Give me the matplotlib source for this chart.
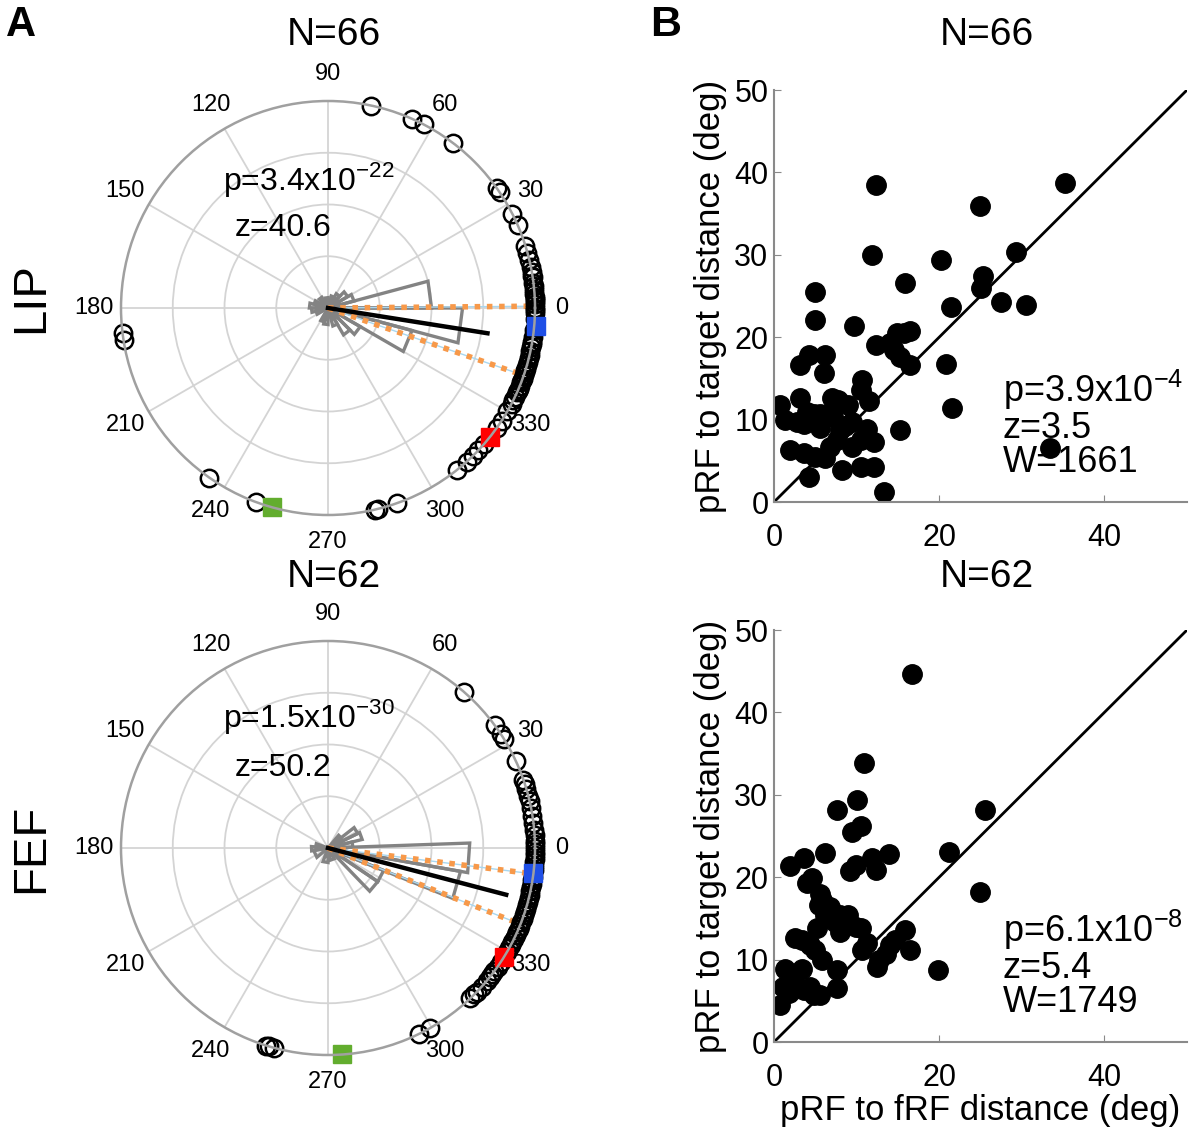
import numpy as np
from matplotlib import pyplot as plt

plt.rcParams['font.family'] = ['Liberation Sans', 'DejaVu Sans']

W, H = 1200, 1143

# ---- polar data (angles in deg, markers sit on the outer ring) ----
lip_angles = [78, 66, 62.5, 53, 35.5, 34, 27, 23.5, 17.5, 15.5, 13.5,
              11.5, 10, 9, 8.5, 7, 6, 5, 4, 3, 2.5, 2, 1, 0, -0.5,
              -1.5, -3, -6, -8, -9.5, -10, -11, -12, -13, -14, -15, -16, -17, -17.5,
              -18, -19, -20, -20.5, -21, -22, -23, -23.5, -24, -25.5, -26.5,
              -27.5, -30, -33, -35.5, -41, -43.5, -45.5, -48, -51.5,
              -70.5, -76, -77, 249.5, 235, 187, 189]
fef_angles = [48.9, 36.4, 33.5, 31.8, 25, 19.3, 18, 16.7, 14.5, 13, 11.1, 9, 7, 5,
              3.5, 2, 1, 0, -1, -2, -3, -4, -5, -6,
              -8, -9, -10, -11, -12, -13, -14, -15, -16, -17, -18, -19, -20,
              -21, -22, -23, -24, -25, -26, -27, -28, -29, -30,
              -33.5, -35, -36.5, -37.5, -38.5, -40, -42, -44, -45, -46.5,
              -60.5, -63.8, 252.6, 254.8, 253.5]

# rose bins: (start deg, end deg, length relative to outer ring)
lip_rose = [(0, 15, 0.50), (-15, 0, 0.65), (-30, -15, 0.42), (-45, -30, 0.18),
            (-60, -45, 0.15), (15, 30, 0.13), (30, 45, 0.11), (45, 60, 0.08),
            (60, 75, 0.06), (90, 105, 0.05), (120, 135, 0.06), (150, 165, 0.07),
            (165, 180, 0.09), (180, 195, 0.08), (195, 210, 0.06), (240, 255, 0.07),
            (255, 270, 0.08), (285, 300, 0.09)]
fef_rose = [(-10, 2, 0.685), (-22, -10, 0.65), (-34, -22, 0.29), (-46, -34, 0.29),
            (2, 14, 0.12), (14, 26, 0.17), (26, 38, 0.16), (38, 50, 0.08),
            (160, 175, 0.06), (175, 190, 0.08), (190, 220, 0.07), (250, 270, 0.07),
            (280, 300, 0.06)]

lip_mean = (-9, 0.78)
fef_mean = (-14.7, 0.89)
lip_ci = [(0.5, 0.99), (-19, 0.97)]
fef_ci = [(-7.2, 0.96), (-21.6, 0.98)]
lip_squares = [(-5, 1.01, '#1f4fe6'), (-38.5, 1.0, '#ff0000'), (254.2, 1.0, '#62ad2e')]
fef_squares = [(-7, 1.0, '#1f4fe6'), (-31.8, 1.0, '#ff0000'), (274, 1.0, '#62ad2e')]

# ---- scatter data ----
lip_x = [12.3, 35.2, 24.9, 11.9, 20.2, 29.3, 25.3, 25.1, 27.5, 30.5,
         21.4, 15.9, 5.0, 5.0, 9.7, 12.3, 14.1, 14.9, 15.7, 16.5,
         14.5, 15.3, 16.5, 20.8, 21.6, 4.2, 6.2, 3.2, 6.0, 10.7,
         10.5, 11.5, 0.7, 3.2, 7.0, 9.0, 1.3, 4.0, 4.8, 5.6,
         6.4, 7.2, 2.8, 3.6, 8.0, 9.4, 11.3, 7.6, 1.9, 3.6,
         5.0, 6.2, 6.8, 9.4, 10.5, 12.1, 15.3, 33.4, 4.2, 8.2,
         10.5, 12.1, 13.3, 5.6, 8.6, 7.8]
lip_y = [38.5, 38.7, 35.9, 30.0, 29.4, 30.4, 27.4, 26.0, 24.3, 23.9,
         23.7, 26.6, 25.5, 22.1, 21.4, 19.1, 19.3, 20.5, 20.5, 20.7,
         18.5, 17.6, 16.6, 16.8, 11.4, 17.8, 17.8, 16.6, 15.6, 14.8,
         13.6, 12.2, 11.8, 12.6, 12.6, 11.8, 9.9, 10.9, 10.7, 10.7,
         10.5, 10.3, 9.7, 9.5, 8.7, 9.7, 8.9, 7.5, 6.3, 5.9,
         5.5, 5.3, 6.7, 6.7, 7.5, 7.3, 8.7, 6.5, 3.0, 3.9,
         4.3, 4.3, 1.2, 9.0, 9.2, 12.4]
fef_x = [16.7, 10.9, 10.1, 7.6, 25.5, 10.5, 9.4, 6.2, 1.9, 3.6,
         13.9, 11.9, 12.3, 9.9, 9.2, 21.2, 4.6, 4.0, 24.9, 5.6,
         5.8, 5.4, 6.8, 6.2, 8.0, 9.0, 7.4, 8.0, 9.9, 10.5,
         5.2, 2.6, 3.4, 4.4, 5.0, 5.8, 11.3, 10.7, 15.9, 14.1,
         16.5, 13.5, 12.7, 12.5, 19.8, 1.3, 3.4, 7.6, 2.1, 1.1,
         2.8, 4.4, 3.6, 4.8, 5.6, 7.6, 0.7, 6.6, 4.2, 14.7, 1.8, 8.3]
fef_y = [44.6, 33.8, 29.4, 28.1, 28.2, 26.2, 25.5, 22.9, 21.3, 22.3,
         22.8, 22.3, 20.9, 21.5, 20.7, 23.1, 19.9, 19.3, 18.2, 18.0,
         17.2, 16.6, 16.4, 15.4, 15.4, 15.4, 14.6, 13.4, 14.0, 13.8,
         13.8, 12.6, 12.4, 11.8, 11.2, 9.9, 12.0, 11.2, 13.6, 11.8,
         11.2, 10.7, 9.9, 9.1, 8.7, 8.9, 8.9, 8.7, 7.5, 6.7,
         6.7, 6.7, 6.3, 5.7, 5.7, 6.5, 4.5, 16.0, 12.0, 12.4, 6.0, 14.2]

lip_polar_stats = ['p=3.4x10$^{\\mathregular{-22}}$', 'z=40.6']
fef_polar_stats = ['p=1.5x10$^{\\mathregular{-30}}$', 'z=50.2']
lip_scatter_stats = ['p=3.9x10$^{\\mathregular{-4}}$', 'z=3.5', 'W=1661']
fef_scatter_stats = ['p=6.1x10$^{\\mathregular{-8}}$', 'z=5.4', 'W=1749']


def px(x, y):
    return x / W, 1 - y / H


def box(left, top, right, bottom):
    return [left / W, 1 - bottom / H, (right - left) / W, (bottom - top) / H]


def polar_panel(ax, angles, rose, mean, ci, squares):
    ax.set_ylim(0, 1)
    ax.set_thetagrids(range(0, 360, 30), labels=[])
    ax.set_rgrids([0.25, 0.5, 0.75], labels=[])
    ax.grid(color='#d4d4d4', lw=1.3)
    ax.spines['polar'].set_color('#a0a0a0')
    ax.spines['polar'].set_linewidth(1.8)
    for a in range(0, 360, 30):
        ax.text(np.deg2rad(a), 1.13, str(a), ha='center', va='center', fontsize=17)

    for a1, a2, r in rose:
        t = np.deg2rad([0, a1, a2, 0])
        ax.plot(t, [0, r, r, 0], color='#838383', lw=2.4, solid_joinstyle='miter')

    for a, r in ci:
        t = np.deg2rad([a, a])
        ax.plot(t, [0, r], color='#a9d7ef', lw=1)
        ax.plot(t, [0, r], color='#f7994a', lw=4, ls=(0, (1, 1.2)))
    ax.plot(np.deg2rad([mean[0], mean[0]]), [0, mean[1]], color='k', lw=3.2)

    ax.plot(np.deg2rad(angles), np.ones(len(angles)), 'o', mfc='none', mec='k',
            ms=12.5, mew=1.8, clip_on=False)
    for a, r, c in squares:
        ax.plot(np.deg2rad(a), r, 's', color=c, ms=13, clip_on=False)


def scatter_panel(ax, x, y, xlabel=True):
    ax.plot([0, 50], [0, 50], color='k', lw=2)
    ax.plot(x, y, 'o', color='k', ms=14)
    ax.set_xlim(0, 50)
    ax.set_ylim(0, 50)
    ax.set_xticks([0, 20, 40])
    ax.set_yticks(range(0, 51, 10))
    for s in ['top', 'right']:
        ax.spines[s].set_visible(False)
    for s in ['left', 'bottom']:
        ax.spines[s].set_color('#8a8a8a')
        ax.spines[s].set_linewidth(1.5)
    ax.tick_params(direction='in', length=5, color='#8a8a8a', labelsize=22)
    ax.tick_params(axis='x', pad=15)
    ax.tick_params(axis='y', pad=4)
    ax.set_ylabel('pRF to target distance (deg)', fontsize=25, labelpad=5)
    if xlabel:
        ax.set_xlabel('pRF to fRF distance (deg)', fontsize=25, labelpad=1)


fig = plt.figure(figsize=(12, 11.43), dpi=100)

ax1 = fig.add_axes(box(121, 101, 535, 515), projection='polar')
polar_panel(ax1, lip_angles, lip_rose, lip_mean, lip_ci, lip_squares)
ax2 = fig.add_axes(box(121, 641, 535, 1055), projection='polar')
polar_panel(ax2, fef_angles, fef_rose, fef_mean, fef_ci, fef_squares)

ax3 = fig.add_axes(box(774, 90, 1187, 502))
scatter_panel(ax3, lip_x, lip_y, xlabel=False)
ax4 = fig.add_axes(box(774, 630, 1187, 1042))
scatter_panel(ax4, fef_x, fef_y)

# panel letters, titles, row labels
fig.text(*px(21, 25), 'A', fontsize=30, fontweight='bold', ha='center', va='center')
fig.text(*px(666, 25), 'B', fontsize=31, fontweight='bold', ha='center', va='center')
fig.text(*px(334, 35), 'N=66', fontsize=28, ha='center', va='center')
fig.text(*px(987, 35), 'N=66', fontsize=28, ha='center', va='center')
fig.text(*px(334, 577), 'N=62', fontsize=28, ha='center', va='center')
fig.text(*px(987, 577), 'N=62', fontsize=28, ha='center', va='center')
fig.text(*px(31, 298), 'LIP', fontsize=34, rotation=90, ha='center', va='center')
fig.text(*px(31, 848), 'FEF', fontsize=34, rotation=90, ha='center', va='center')

# statistics
fig.text(*px(223, 180), lip_polar_stats[0], fontsize=23, ha='left', va='center')
fig.text(*px(235, 228), lip_polar_stats[1], fontsize=23, ha='left', va='center')
fig.text(*px(223, 716), fef_polar_stats[0], fontsize=23, ha='left', va='center')
fig.text(*px(235, 768), fef_polar_stats[1], fontsize=23, ha='left', va='center')

for stats, yc in [(lip_scatter_stats, 424), (fef_scatter_stats, 964)]:
    fig.text(*px(1003, yc), '\n'.join(stats), fontsize=26, ha='left', va='center',
             linespacing=0.95)

fig.savefig('out.png', dpi=100)
